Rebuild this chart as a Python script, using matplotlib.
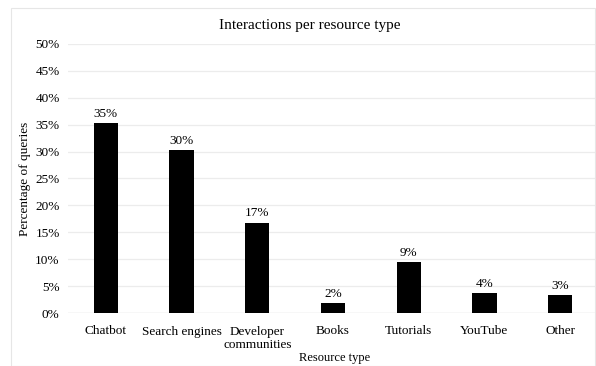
import matplotlib
matplotlib.use("Agg")
import matplotlib.pyplot as plt
from matplotlib.patches import Rectangle

categories = ["Chatbot", "Search engines", "Developer\ncommunities", "Books",
              "Tutorials", "YouTube", "Other"]
values = [35.3, 30.3, 16.8, 1.8, 9.5, 3.7, 3.3]
labels = ["35%", "30%", "17%", "2%", "9%", "4%", "3%"]
yticks = [0, 5, 10, 15, 20, 25, 30, 35, 40, 45, 50]

plt.rcParams["font.family"] = ["Liberation Serif", "DejaVu Serif"]
plt.rcParams["font.size"] = 9.5

fig = plt.figure(figsize=(5.96, 3.66), dpi=100)
fig.patches.append(Rectangle((11/596, 0), 1 - 11/596 - 0.002, 1 - 8/366,
                             transform=fig.transFigure, fill=False,
                             edgecolor="#e6e6e6", linewidth=0.8))
ax = fig.add_axes([68/596, 1 - 313/366, 530/596, 269/366])

x = range(len(categories))
ax.bar(x, values, width=0.32, color="black", zorder=3)
for i, v in enumerate(values):
    ax.text(i, v + 0.6, labels[i], ha="center", va="bottom", fontsize=9.5)

ax.set_ylim(0, 50)
ax.set_xlim(-0.5, len(categories) - 0.5)
ax.set_yticks(yticks)
ax.set_yticklabels([str(t) + "%" for t in yticks])
ax.set_xticks(list(x))
ax.set_xticklabels(categories, linespacing=1.15)
ax.tick_params(axis="x", length=0, pad=9)
ax.tick_params(axis="y", length=0, pad=6)
ax.yaxis.grid(True, color="#ececec", linewidth=0.9, zorder=0)
for s in ax.spines.values():
    s.set_visible(False)
ax.axhline(0, color="#d9d9d9", linewidth=0.9, zorder=2)

ax.set_ylabel("Percentage of queries", fontsize=9.5, labelpad=3)
fig.text(310/596, 1 - 25/366, "Interactions per resource type", ha="center",
         va="center", fontsize=11)
fig.text(335/596, 1 - 358/366, "Resource type", ha="center", va="center",
         fontsize=9)

fig.savefig("out.png", dpi=100)
